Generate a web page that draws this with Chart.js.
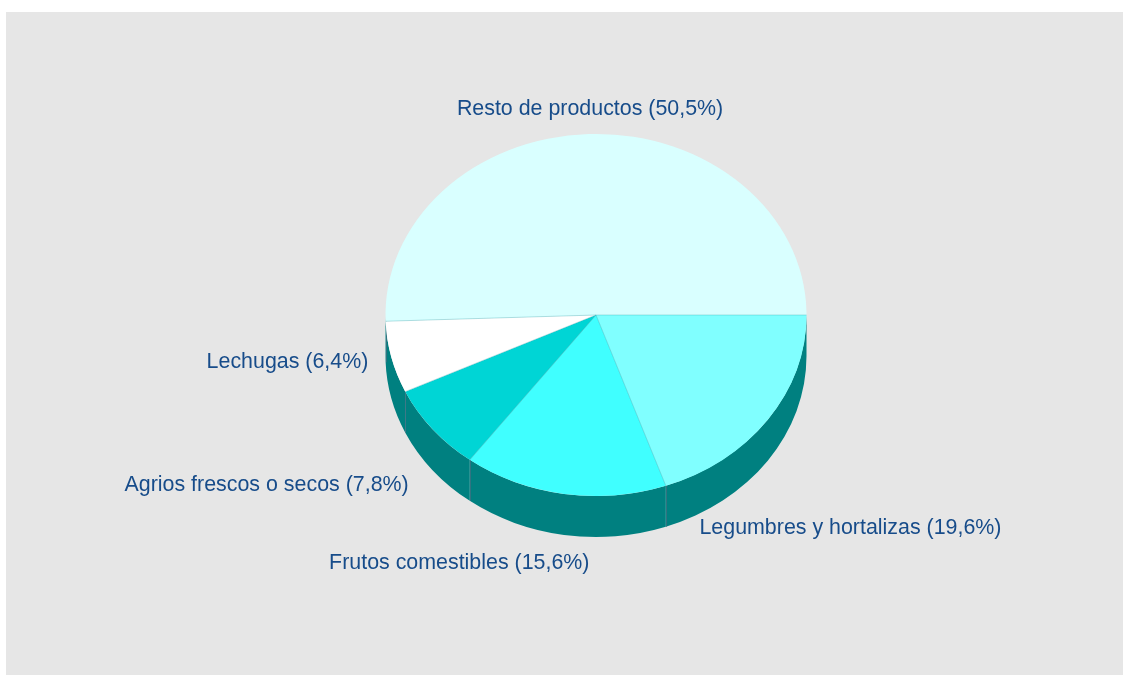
<!DOCTYPE html>
<html><head><meta charset="utf-8">
<script src="https://cdn.jsdelivr.net/npm/chart.js@4"></script>
<style>html,body{margin:0;padding:0;background:#fff;} canvas{display:block}</style>
</head><body>
<canvas id="c" width="1123" height="675"></canvas>
<script>
const categories = ['Legumbres y hortalizas', 'Frutos comestibles', 'Agrios frescos o secos', 'Lechugas', 'Resto de productos'];
const shares = [19.6, 15.6, 7.8, 6.4, 50.5];
const sliceColors = ['#80FFFF', '#40FFFF', '#00D5D5', '#FFFFFF', '#D9FFFF'];
const labelTexts = categories.map((c, i) => c + ' (' + shares[i].toFixed(1).replace('.', ',') + '%)');

const pie3d = {
  id: 'pie3d',
  beforeDraw(chart, args, o) {
    const ctx = chart.ctx;
    ctx.save();
    ctx.fillStyle = '#ffffff';
    ctx.fillRect(0, 0, chart.width, chart.height);
    ctx.fillStyle = o.panel;
    ctx.fillRect(6, 12, chart.width - 6, chart.height - 12);
    ctx.restore();
  },
  beforeDatasetsDraw(chart, args, o) {
    const ctx = chart.ctx;
    const arcs = chart.getDatasetMeta(0).data;
    if (!arcs.length) return;
    const cx = arcs[0].x, cy = arcs[0].y, R = arcs[0].outerRadius;
    const ry = R * o.tilt, d = o.depth;
    ctx.save();
    ctx.fillStyle = o.sideColor;
    arcs.forEach(a => {
      const s = Math.max(a.startAngle, 0), e = Math.min(a.endAngle, Math.PI);
      if (e <= s) return;
      ctx.beginPath();
      ctx.ellipse(cx, cy, R, ry, 0, s, e, false);
      ctx.lineTo(cx + R * Math.cos(e), cy + d + ry * Math.sin(e));
      ctx.ellipse(cx, cy + d, R, ry, 0, e, s, true);
      ctx.closePath();
      ctx.fill();
    });
    ctx.strokeStyle = o.seamColor;
    ctx.lineWidth = 1;
    arcs.forEach(a => {
      const e = a.endAngle;
      if (e > 0.02 && e < Math.PI - 0.02) {
        const x = cx + R * Math.cos(e), y = cy + ry * Math.sin(e);
        ctx.beginPath();
        ctx.moveTo(Math.round(x) + 0.5, y);
        ctx.lineTo(Math.round(x) + 0.5, y + d);
        ctx.stroke();
      }
    });
    ctx.restore();
    ctx.save();
    ctx.translate(cx, cy);
    ctx.scale(1, o.tilt);
    ctx.translate(-cx, -cy);
  },
  afterDatasetsDraw(chart, args, o) {
    const ctx = chart.ctx;
    ctx.restore();
    const arcs = chart.getDatasetMeta(0).data;
    if (!arcs.length) return;
    const cx = arcs[0].x, cy = arcs[0].y, R = arcs[0].outerRadius;
    const ry = R * o.tilt, d = o.depth, g = o.gap;
    ctx.save();
    ctx.strokeStyle = o.topSeamColor;
    ctx.lineWidth = 0.7;
    arcs.forEach(a => {
      const e = a.startAngle;
      ctx.beginPath();
      ctx.moveTo(cx, cy);
      ctx.lineTo(cx + R * Math.cos(e), cy + ry * Math.sin(e));
      ctx.stroke();
    });
    ctx.font = o.font;
    ctx.fillStyle = o.textColor;
    ctx.textBaseline = 'middle';
    arcs.forEach((a, i) => {
      const m = (a.startAngle + a.endAngle) / 2;
      const c = Math.cos(m), s = Math.sin(m);
      const nd = o.nudge[i] || [0, 0];
      const x = cx + (R + g) * c + nd[0];
      const y = cy + (ry + g) * s + d * Math.max(0, s) + nd[1];
      ctx.textAlign = c > 0.3 ? 'left' : (c < -0.3 ? 'right' : 'center');
      ctx.fillText(labelTexts[i], x, y);
    });
    ctx.restore();
  }
};

new Chart(document.getElementById('c'), {
  type: 'pie',
  data: {
    labels: categories,
    datasets: [{
      data: shares,
      backgroundColor: sliceColors,
      borderWidth: 0
    }]
  },
  options: {
    responsive: false,
    devicePixelRatio: 1,
    animation: false,
    rotation: 90,
    layout: { padding: { left: 385.5, right: 316.5, top: 104, bottom: 149 } },
    plugins: {
      legend: { display: false },
      tooltip: { enabled: false },
      pie3d: {
        panel: '#E6E6E6',
        tilt: 0.86,
        depth: 41,
        sideColor: '#008080',
        seamColor: 'rgba(70,110,130,0.7)',
        topSeamColor: 'rgba(40,160,170,0.45)',
        gap: 18,
        font: '21.4px "Liberation Sans", Arial, sans-serif',
        textColor: '#174C8A',
        nudge: [[-83, 74], [-102, 11], [-10, 19], [-5.5, -9], [-2, -6.5]]
      }
    }
  },
  plugins: [pie3d]
});
</script>
</body></html>
